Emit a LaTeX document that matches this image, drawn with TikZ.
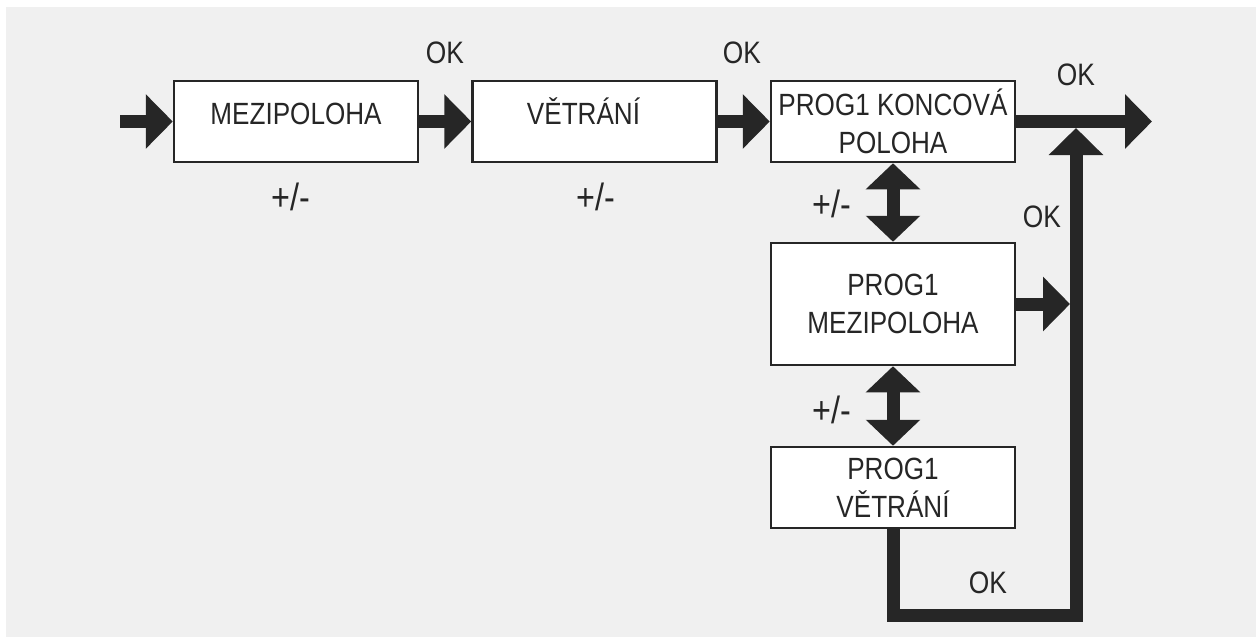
\documentclass[tikz,border=0pt]{standalone}
\usepackage{fontspec}
\setmainfont[FakeStretch=0.85]{Liberation Sans}
\usetikzlibrary{arrows.meta}
\definecolor{bgray}{HTML}{F0F0F0}
\definecolor{ink}{HTML}{262626}

\begin{document}
\begin{tikzpicture}[x=1pt,y=-1pt,
  box/.style={draw=ink, line width=2.5pt, fill=white, minimum width=244pt,
    inner sep=2pt, align=center, text=ink, font=\fontsize{30.7}{38}\selectfont},
  raised/.style={text height=22pt, text depth=16pt},
  flow/.style={draw=ink, line width=13pt, -{Triangle[width=53pt,length=27pt]}},
  dflow/.style={draw=ink, line width=13pt,
    {Triangle[width=53pt,length=26pt]}-{Triangle[width=53pt,length=26pt]}},
  lbl/.style={text=ink, font=\fontsize{31}{38}\selectfont},
  pmlbl/.style={text=ink, font=\fontsize{38}{38}\selectfont}]

% background
\fill[bgray] (6,7) rectangle (1256,637);
\useasboundingbox (0,0) rectangle (1256,637);

% boxes
\node[box,raised,minimum height=81pt] (mezi) at (296,121.5) {MEZIPOLOHA};
\node[box,raised,minimum height=81pt] (vetr) at (594.5,121.5) {VĚTRÁNÍ\hspace*{22pt}};
\node[box,minimum height=81pt] (konc) at (893,121.5) {PROG1 KONCOVÁ\\POLOHA};
\node[box,minimum height=122pt] (pmezi) at (893,304) {PROG1\\MEZIPOLOHA};
\node[box,minimum height=81pt] (pvetr) at (893,487.5) {PROG1\\VĚTRÁNÍ};

% free ends and bends
\coordinate (in) at (120,121.5);
\coordinate (out) at (1152,121.5);
\coordinate (join) at (1076,128);
\coordinate (bendl) at (893,615);
\coordinate (bendr) at (1076,615);

% main line
\draw[flow] (in) -- (mezi);
\draw[flow] (mezi) -- (vetr);
\draw[flow] (vetr) -- (konc);
\draw[flow] (konc) -- (out);

% program steps
\draw[dflow] (konc) -- (pmezi);
\draw[dflow] (pmezi) -- (pvetr);
\draw[flow,shorten >=6pt] (pmezi.east) -- (pmezi.east -| join);
\draw[flow,line join=miter] (pvetr) -- (bendl) -- (bendr) -- (join);

% labels
\node[lbl] (ok1) at (445,53) {OK};
\node[lbl] (ok2) at (742,53) {OK};
\node[lbl] (ok3) at (1076,75) {OK};
\node[lbl] (ok4) at (1042,217) {OK};
\node[lbl] (ok5) at (988,583) {OK};
\node[pmlbl] (pm1) at (291,197) {+/-};
\node[pmlbl] (pm2) at (596,197) {+/-};
\node[pmlbl] (pm3) at (832,204) {+/-};
\node[pmlbl] (pm4) at (832,410) {+/-};

\end{tikzpicture}
\end{document}
